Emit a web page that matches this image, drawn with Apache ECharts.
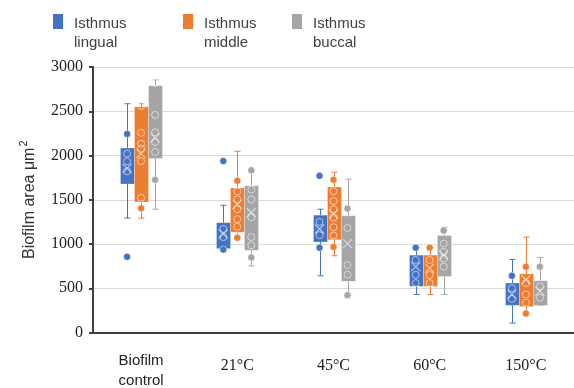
<!DOCTYPE html>
<html>
<head>
<meta charset="utf-8">
<script src="https://cdn.jsdelivr.net/npm/echarts@6/dist/echarts.min.js"></script>
<style>
  html, body { margin: 0; padding: 0; background: #fff; }
  #main { width: 574px; height: 388px; }
</style>
</head>
<body>
<div id="main"></div>
<script>
var categories = ['Biofilm\ncontrol', '21°C', '45°C', '60°C', '150°C'];
var seriesNames = ['Isthmus lingual', 'Isthmus middle', 'Isthmus buccal'];
var colors = ['#4472C4', '#ED7D31', '#A5A5A5'];

// box: [min, q1, q3, max] per category
var lingualBox = [[1293, 1678, 2085, 2585], [937, 948, 1241, 1437], [641, 1022, 1326, 1393], [430, 522, 874, 959], [107, 307, 559, 826]];
var middleBox = [[1293, 1474, 2552, 2585], [1070, 1133, 1633, 2048], [867, 1048, 1644, 1811], [430, 522, 874, 959], [215, 293, 663, 1078]];
var buccalBox = [[1393, 1967, 2789, 2855], [752, 930, 1659, 1833], [422, 578, 1319, 1733], [430, 633, 1096, 1189], [307, 307, 585, 848]];

// filled dots per category
var lingualDots = [[2244, 855], [1937, 937], [1770, 959], [959], [641]];
var middleDots = [[1403], [1715, 1070], [1726, 967], [959], [744, 215]];
var buccalDots = [[1726], [1833, 848], [1400, 422], [1152], [744]];

// hollow inner points per category
var lingualRings = [[2022, 1933, 1822], [1170, 1078], [1250, 1100], [819, 652, 559], [500, 380]];
var middleRings = [[2560, 2256, 2133, 2078, 1937, 1522], [1596, 1504, 1393, 1281, 1196], [1596, 1485, 1393, 1300, 1189, 1096], [819, 650, 559], [559, 430, 337]];
var buccalRings = [[2820, 2459, 2263, 2152, 2041], [1615, 1504, 1300, 1078, 985], [1180, 763, 652], [1004, 911, 837, 744], [522, 393]];

// means (X markers)
var lingualMean = [1855, 1115, 1170, 744, 430];
var middleMean = [2022, 1448, 1337, 726, 596];
var buccalMean = [2200, 1356, 1004, 874, 467];

var yTicks = [0, 500, 1000, 1500, 2000, 2500, 3000];

var boxes = [lingualBox, middleBox, buccalBox];
var dots = [lingualDots, middleDots, buccalDots];
var rings = [lingualRings, middleRings, buccalRings];
var means = [lingualMean, middleMean, buccalMean];
var offsets = [-14, 0, 14];

var chartDom = document.getElementById('main');
var myChart = echarts.init(chartDom);

function boxRenderer(offset, color) {
  return function (params, api) {
    var i = api.value(0);
    var lo = api.coord([i, api.value(1)]);
    var q1 = api.coord([i, api.value(2)]);
    var q3 = api.coord([i, api.value(3)]);
    var hi = api.coord([i, api.value(4)]);
    var cx = Math.round(lo[0] + offset) + 0.5;
    var w = 14, cap = 3;
    var line = { stroke: color, lineWidth: 1 };
    return {
      type: 'group',
      children: [
        { type: 'line', shape: { x1: cx, y1: hi[1], x2: cx, y2: q3[1] }, style: line },
        { type: 'line', shape: { x1: cx, y1: q1[1], x2: cx, y2: lo[1] }, style: line },
        { type: 'line', shape: { x1: cx - cap, y1: hi[1], x2: cx + cap, y2: hi[1] }, style: line },
        { type: 'line', shape: { x1: cx - cap, y1: lo[1], x2: cx + cap, y2: lo[1] }, style: line },
        { type: 'rect', shape: { x: cx - w / 2, y: q3[1], width: w, height: q1[1] - q3[1] },
          style: { fill: color, stroke: 'rgba(255,255,255,0.25)', lineWidth: 1 } }
      ]
    };
  };
}

function toPoints(list) {
  var out = [];
  list.forEach(function (vals, i) {
    vals.forEach(function (v) { out.push([i, v]); });
  });
  return out;
}

var series = [];
for (var s = 0; s < 3; s++) {
  series.push({
    name: seriesNames[s],
    type: 'custom',
    itemStyle: { color: colors[s] },
    renderItem: boxRenderer(offsets[s], colors[s]),
    encode: { x: 0, y: [1, 2, 3, 4] },
    data: boxes[s].map(function (b, i) { return [i].concat(b); }),
    z: 2
  });
  series.push({
    type: 'scatter',
    symbol: 'circle',
    symbolSize: 7,
    symbolOffset: [offsets[s], 0],
    itemStyle: { color: colors[s], borderColor: 'rgba(255,255,255,0.45)', borderWidth: 1, opacity: 1 },
    data: toPoints(dots[s]),
    z: 3
  });
  series.push({
    type: 'scatter',
    symbol: 'circle',
    symbolSize: 7,
    symbolOffset: [offsets[s], 0],
    itemStyle: { color: 'transparent', borderColor: 'rgba(255,255,255,0.55)', borderWidth: 1, opacity: 1 },
    data: toPoints(rings[s]),
    z: 4
  });
  series.push({
    type: 'scatter',
    symbol: 'path://M0,0L10,10M10,0L0,10',
    symbolSize: 9,
    symbolOffset: [offsets[s], 0],
    itemStyle: { color: 'transparent', borderColor: 'rgba(255,255,255,0.6)', borderWidth: 1.2, opacity: 1 },
    data: means[s].map(function (v, i) { return [i, v]; }),
    z: 4
  });
}

// legend swatch sits at the top of a taller (mostly empty) icon box
var legendIcon = 'path://M0,0H10V15H0Z M15.99,38.99H16V39H15.99Z';

function legendFor(idx, left) {
  return {
    data: [seriesNames[idx]],
    left: left,
    top: 14,
    icon: legendIcon,
    itemWidth: 16,
    itemHeight: 39,
    itemGap: 0,
    padding: 0,
    selectedMode: false,
    formatter: function (name) { return name.replace(' ', '\n'); },
    textStyle: {
      fontFamily: 'Liberation Sans, Arial, sans-serif',
      fontSize: 15,
      color: '#404040',
      lineHeight: 19
    }
  };
}

var option = {
  animation: false,
  backgroundColor: '#fff',
  legend: [legendFor(0, 53), legendFor(1, 183), legendFor(2, 292)],
  grid: { left: 93, right: -3, top: 67, bottom: 51 },
  xAxis: {
    type: 'category',
    data: categories,
    boundaryGap: true,
    axisLine: { lineStyle: { color: '#404040', width: 2 } },
    axisTick: { show: false },
    axisLabel: {
      margin: 18,
      interval: 0,
      formatter: function (v) {
        return v.indexOf('\n') >= 0 ? '{sans|' + v.replace('\n', '}\n{sans|') + '}' : '{serif|' + v + '}';
      },
      rich: {
        sans: { fontFamily: 'Liberation Sans, Arial, sans-serif', fontSize: 15, color: '#222', lineHeight: 20 },
        serif: { fontFamily: 'Liberation Serif, Times New Roman, serif', fontSize: 16, color: '#222', lineHeight: 20, padding: [10, 0, 0, 0] }
      }
    }
  },
  yAxis: {
    type: 'value',
    min: yTicks[0],
    max: yTicks[yTicks.length - 1],
    interval: 500,
    name: 'Biofilm area μm{sup|2}',
    nameLocation: 'middle',
    nameGap: 52,
    nameTextStyle: {
      fontFamily: 'Liberation Sans, Arial, sans-serif',
      fontSize: 16,
      color: '#333',
      rich: {
        sup: { fontSize: 11, verticalAlign: 'top', padding: [0, 0, 12, 1], fontFamily: 'Liberation Sans, Arial, sans-serif', color: '#333' }
      }
    },
    axisLine: { show: true, lineStyle: { color: '#404040', width: 2 } },
    axisTick: { show: true, inside: false, length: 4, lineStyle: { color: '#404040', width: 2 } },
    axisLabel: {
      margin: 10,
      fontFamily: 'Liberation Serif, Times New Roman, serif',
      fontSize: 16,
      color: '#222',
      formatter: function (v) { return String(v); }
    },
    splitLine: { lineStyle: { color: '#d9d9d9', width: 1 } }
  },
  series: series
};

option && myChart.setOption(option);
</script>
</body>
</html>
